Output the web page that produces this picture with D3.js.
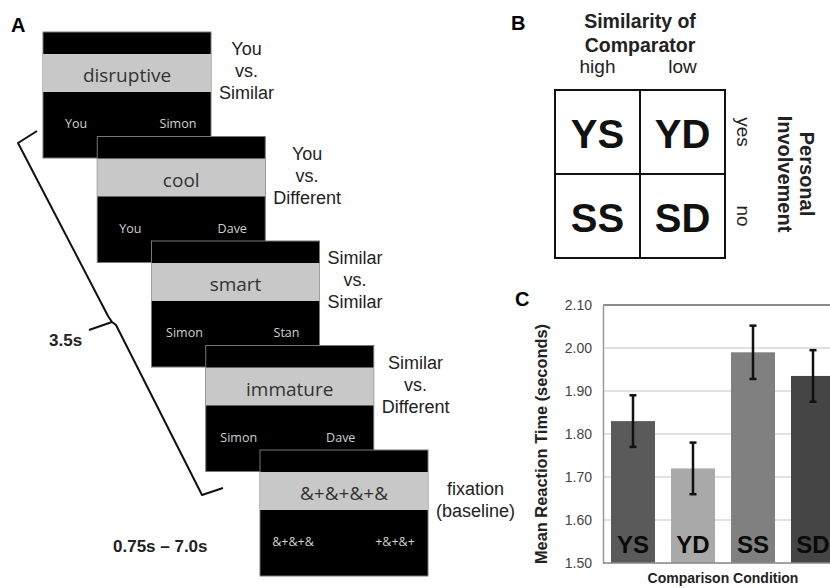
<!DOCTYPE html>
<html><head><meta charset="utf-8">
<script src="https://cdn.jsdelivr.net/npm/d3@7"></script>
<style>
html,body{margin:0;padding:0;background:#fff;}
svg{display:block;}
text{font-family:"Liberation Sans",Arial,Helvetica,sans-serif;}
</style></head>
<body>
<svg id="fig" width="830" height="588"></svg>
<script>
// ---------- data ----------
const conditions = ["YS", "YD", "SS", "SD"];
const meanRT = [1.83, 1.72, 1.99, 1.935];
const errRT = [0.06, 0.06, 0.062, 0.06];
const rtTicks = [1.50, 1.60, 1.70, 1.80, 1.90, 2.00, 2.10];
const barColors = ["#5a5a5a", "#a9a9a9", "#808080", "#454545"];

const screenWords = ["disruptive", "cool", "smart", "immature", "&+&+&+&"];
const leftNames = ["You", "You", "Simon", "Simon", "&+&+&"];
const rightNames = ["Simon", "Dave", "Stan", "Dave", "+&+&+"];
const screenLabels = [
  ["You", "vs.", "Similar"],
  ["You", "vs.", "Different"],
  ["Similar", "vs.", "Similar"],
  ["Similar", "vs.", "Different"],
  ["fixation", "(baseline)"]
];

const similarityLevels = ["high", "low"];
const involvementLevels = ["yes", "no"];
const cellCodes = [["YS", "YD"], ["SS", "SD"]];

// ---------- setup ----------
const svg = d3.select("#fig");

// ---------- Panel A ----------
const gA = svg.append("g");
gA.append("text").attr("x", 11).attr("y", 32).attr("font-size", 20).attr("font-weight", "bold").text("A");

const idx = d3.range(screenWords.length);
const sx = d3.scaleLinear().domain([0, 4]).range([43, 260]);
const sy = d3.scaleLinear().domain([0, 4]).range([32, 450]);
const SW = 168, TOP = 22, MID = 38, SH = 126;

// bracket (drawn relative to screen layout)
const bx0 = sx(0), by0 = sy(0);
const bracket = d3.path();
bracket.moveTo(bx0 - 6, by0 + 99);
bracket.lineTo(bx0 - 25, by0 + 111);
bracket.lineTo(bx0 + 65, by0 + 284);
bracket.lineTo(bx0 + 69, by0 + 290);
bracket.lineTo(bx0 + 46, by0 + 298);
bracket.moveTo(bx0 + 69, by0 + 290);
bracket.lineTo(bx0 + 73, by0 + 293);
bracket.lineTo(bx0 + 159, by0 + 463);
bracket.lineTo(bx0 + 180, by0 + 456);
gA.append("path").attr("d", bracket.toString()).attr("fill", "none")
  .attr("stroke", "#111").attr("stroke-width", 2).attr("stroke-linejoin", "round");

gA.append("text").attr("x", 49).attr("y", 346).attr("font-size", 17).attr("font-weight", "bold")
  .attr("fill", "#222").text("3.5s");
gA.append("text").attr("x", 113).attr("y", 552).attr("font-size", 17).attr("font-weight", "bold")
  .attr("fill", "#222").text("0.75s \u2013 7.0s");

const screens = gA.selectAll("g.screen").data(idx).join("g").attr("class", "screen")
  .attr("transform", i => `translate(${sx(i)},${sy(i)})`);
screens.append("rect").attr("width", SW).attr("height", SH).attr("fill", "#000")
  .attr("stroke", "#777").attr("stroke-width", 1);
screens.append("rect").attr("y", TOP).attr("width", SW).attr("height", MID).attr("fill", "#c8c8c8");
screens.append("text").attr("x", SW / 2).attr("y", TOP + 28).attr("text-anchor", "middle")
  .attr("font-family", "'Open Sans', sans-serif").attr("font-size", 19).attr("fill", "#333")
  .style("font-family", "'Open Sans', sans-serif")
  .text(i => screenWords[i]);
screens.append("text").attr("x", 33).attr("y", 96).attr("text-anchor", "middle")
  .style("font-family", "'Open Sans', sans-serif").attr("font-size", 12.5).attr("fill", "#d0d0d0")
  .text(i => leftNames[i]);
screens.append("text").attr("x", SW - 33).attr("y", 96).attr("text-anchor", "middle")
  .style("font-family", "'Open Sans', sans-serif").attr("font-size", 12.5).attr("fill", "#d0d0d0")
  .text(i => rightNames[i]);

// condition labels to the right of each screen
idx.forEach(i => {
  const lines = screenLabels[i];
  const g = gA.append("g");
  const gc = sy(i) + TOP + MID / 2;
  const first = gc + 4 - 22 * (lines.length - 2);
  const t = g.selectAll("text").data(lines).join("text")
    .attr("y", (d, k) => first + 22 * k)
    .attr("text-anchor", "middle").attr("font-size", 18).attr("fill", "#222")
    .text(d => d);
  let maxW = 0;
  t.each(function () { maxW = Math.max(maxW, this.getComputedTextLength()); });
  t.attr("x", sx(i) + SW + 8 + maxW / 2);
});

// ---------- Panel B ----------
const gB = svg.append("g");
gB.append("text").attr("x", 511).attr("y", 30).attr("font-size", 20).attr("font-weight", "bold").text("B");
const bxs = d3.scaleBand().domain(similarityLevels).range([555, 725]);
const bys = d3.scaleBand().domain(involvementLevels).range([90, 258]);
const bCx = (555 + 725) / 2;
gB.append("text").attr("x", bCx).attr("y", 28).attr("text-anchor", "middle")
  .attr("font-size", 19.5).attr("font-weight", "bold").attr("fill", "#222").text("Similarity of");
gB.append("text").attr("x", bCx).attr("y", 52).attr("text-anchor", "middle")
  .attr("font-size", 19.5).attr("font-weight", "bold").attr("fill", "#222").text("Comparator");
gB.selectAll("text.col").data(similarityLevels).join("text").attr("class", "col")
  .attr("x", d => bxs(d) + bxs.bandwidth() / 2).attr("y", 73).attr("text-anchor", "middle")
  .attr("font-size", 19).attr("fill", "#222").text(d => d);

const cells = [];
involvementLevels.forEach((r, ri) => similarityLevels.forEach((c, ci) => cells.push({ r, c, code: cellCodes[ri][ci] })));
gB.selectAll("rect.cell").data(cells).join("rect").attr("class", "cell")
  .attr("x", d => bxs(d.c)).attr("y", d => bys(d.r))
  .attr("width", bxs.bandwidth()).attr("height", bys.bandwidth())
  .attr("fill", "none").attr("stroke", "#111").attr("stroke-width", 2);
gB.selectAll("text.cell").data(cells).join("text").attr("class", "cell")
  .attr("x", d => bxs(d.c) + bxs.bandwidth() / 2)
  .attr("y", d => bys(d.r) + bys.bandwidth() / 2 + 16)
  .attr("text-anchor", "middle").attr("font-size", 40).attr("font-weight", "bold").attr("fill", "#111")
  .text(d => d.code);
gB.selectAll("text.row").data(involvementLevels).join("text").attr("class", "row")
  .attr("transform", d => `translate(737,${bys(d) + bys.bandwidth() / 2}) rotate(90)`)
  .attr("text-anchor", "middle").attr("font-size", 19).attr("fill", "#222").text(d => d);
const bMy = (90 + 258) / 2;
gB.append("text").attr("transform", `translate(800,${bMy}) rotate(90)`).attr("text-anchor", "middle")
  .attr("font-size", 20).attr("font-weight", "bold").attr("fill", "#222").text("Personal");
gB.append("text").attr("transform", `translate(778,${bMy}) rotate(90)`).attr("text-anchor", "middle")
  .attr("font-size", 20).attr("font-weight", "bold").attr("fill", "#222").text("Involvement");

// ---------- Panel C ----------
const gC = svg.append("g");
gC.append("text").attr("x", 515).attr("y", 306).attr("font-size", 20).attr("font-weight", "bold").text("C");
const x0 = 603, x1 = 843;
const xs = d3.scaleBand().domain(conditions).range([x0, x1]).paddingInner(0.2667).paddingOuter(0.1333);
const ys = d3.scaleLinear().domain([1.5, 2.1]).range([563, 305]);

// gridlines
gC.append("g").selectAll("line").data(rtTicks).join("line")
  .attr("x1", x0).attr("x2", 830).attr("y1", d => ys(d)).attr("y2", d => ys(d))
  .attr("stroke", d => d === 2.1 ? "#8c8c8c" : "#c4c4c4").attr("stroke-width", d => d === 2.1 ? 2 : 1.2);

// y axis
const yAxis = d3.axisLeft(ys).tickValues(rtTicks).tickFormat(d3.format(".2f")).tickSize(0).tickPadding(11);
const ya = gC.append("g").attr("transform", `translate(${x0},0)`).call(yAxis);
ya.select(".domain").attr("stroke", "#9a9a9a").attr("stroke-width", 1.5);
ya.selectAll("text").attr("font-size", 14).attr("fill", "#444")
  .attr("font-family", "'Liberation Sans',Arial,sans-serif");

// bars
gC.selectAll("rect.bar").data(conditions).join("rect").attr("class", "bar")
  .attr("x", d => xs(d)).attr("width", xs.bandwidth())
  .attr("y", (d, i) => ys(meanRT[i])).attr("height", (d, i) => ys(1.5) - ys(meanRT[i]))
  .attr("fill", (d, i) => barColors[i]);
// bottom line
gC.append("line").attr("x1", x0).attr("x2", 830).attr("y1", ys(1.5)).attr("y2", ys(1.5))
  .attr("stroke", "#8c8c8c").attr("stroke-width", 1.5);

// error bars
const eb = gC.selectAll("g.err").data(conditions).join("g").attr("class", "err");
eb.append("line").attr("x1", d => xs(d) + xs.bandwidth() / 2).attr("x2", d => xs(d) + xs.bandwidth() / 2)
  .attr("y1", (d, i) => ys(meanRT[i] + errRT[i])).attr("y2", (d, i) => ys(meanRT[i] - errRT[i]))
  .attr("stroke", "#111").attr("stroke-width", 2.5);
[1, -1].forEach(s => {
  eb.append("line").attr("x1", d => xs(d) + xs.bandwidth() / 2 - 3.5).attr("x2", d => xs(d) + xs.bandwidth() / 2 + 3.5)
    .attr("y1", (d, i) => ys(meanRT[i] + s * errRT[i])).attr("y2", (d, i) => ys(meanRT[i] + s * errRT[i]))
    .attr("stroke", "#111").attr("stroke-width", 2.5);
});

// bar labels
gC.selectAll("text.blab").data(conditions).join("text").attr("class", "blab")
  .attr("x", d => xs(d) + xs.bandwidth() / 2).attr("y", ys(1.5) - 10)
  .attr("text-anchor", "middle").attr("font-size", 24).attr("font-weight", "bold").attr("fill", "#0a0a0a")
  .text(d => d);

// axis titles
gC.append("text").attr("transform", `translate(547,${(ys(1.5) + ys(2.1)) / 2 + 10}) rotate(-90)`)
  .attr("text-anchor", "middle").attr("font-size", 16.4).attr("font-weight", "bold").attr("fill", "#222")
  .text("Mean Reaction Time (seconds)");
gC.append("text").attr("x", 723).attr("y", 583).attr("text-anchor", "middle")
  .attr("font-size", 14).attr("font-weight", "bold").attr("fill", "#222").text("Comparison Condition");
</script>
</body></html>
